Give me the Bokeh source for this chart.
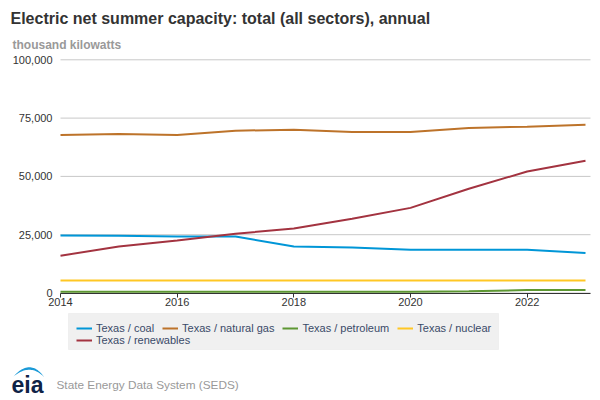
import numpy as np
from bokeh.plotting import figure
from bokeh.models import (Label, Legend, LegendItem, FixedTicker, NumeralTickFormatter,
                          Range1d, PolyAnnotation)
from bokeh.embed import file_html
from bokeh.resources import INLINE

years = [2014, 2015, 2016, 2017, 2018, 2019, 2020, 2021, 2022, 2023]
coal = [24650, 24600, 24200, 24200, 19900, 19500, 18500, 18500, 18500, 17200]
natural_gas = [67800, 68200, 67800, 69600, 70000, 69000, 69000, 70800, 71300, 72100]
petroleum = [500, 500, 500, 500, 500, 500, 500, 700, 1300, 1300]
nuclear = [5400, 5400, 5400, 5400, 5400, 5400, 5400, 5400, 5400, 5400]
renewables = [16000, 19900, 22500, 25400, 27700, 31800, 36500, 44700, 52100, 56700]

series_names = ["Texas / coal", "Texas / natural gas", "Texas / petroleum",
                "Texas / nuclear", "Texas / renewables"]
series_values = [coal, natural_gas, petroleum, nuclear, renewables]
series_colors = ["#0096d7", "#bd732a", "#5d9732", "#ffc724", "#a33340"]

y_ticks = [0, 25000, 50000, 75000, 100000]
x_ticks = [2014, 2016, 2018, 2020, 2022]

title_text = "Electric net summer capacity: total (all sectors), annual"
subtitle_text = "thousand kilowatts"
source_text = "State Energy Data System (SEDS)"

FONT = "Liberation Sans"
W, H = 600, 400
# plot area geometry (pixels within the canvas)
PX_LEFT, PX_RIGHT = 60, 585      # x of first / last year
PY_ZERO, PY_TOP = 292.5, 59.3    # y of 0 and of the top tick (from canvas top)

x_scale = (PX_RIGHT - PX_LEFT) / (years[-1] - years[0])
y_scale = (PY_ZERO - PY_TOP) / (y_ticks[-1] - y_ticks[0])
x0 = years[0] - PX_LEFT / x_scale
x1 = years[-1] + (W - PX_RIGHT) / x_scale
y0 = -(H - PY_ZERO) / y_scale
y1 = PY_ZERO / y_scale
grid_end = years[-1] + 5 / x_scale

p = figure(width=W, height=H, output_backend="svg", toolbar_location=None,
           x_range=Range1d(x0, x1), y_range=Range1d(y0, y1), min_border=0,
           background_fill_color="white", border_fill_color="white")
p.outline_line_color = None
p.grid.grid_line_color = None

# horizontal grid lines at the y ticks
p.segment(x0=[years[0]] * len(y_ticks), y0=y_ticks, x1=[grid_end] * len(y_ticks), y1=y_ticks,
          line_color="#c8c8c8", line_width=1)

p.yaxis.fixed_location = years[0]
p.yaxis.bounds = (y_ticks[0], y_ticks[-1])
p.yaxis.ticker = FixedTicker(ticks=y_ticks)
p.yaxis.formatter = NumeralTickFormatter(format="0,0")
p.yaxis.axis_line_color = None
p.yaxis.major_tick_line_color = None
p.yaxis.minor_tick_line_color = None
p.yaxis.major_tick_out = 0
p.yaxis.major_tick_in = 0
p.yaxis.major_label_standoff = 8
p.yaxis.major_label_text_font = FONT
p.yaxis.major_label_text_font_size = "11px"
p.yaxis.major_label_text_color = "#333333"

p.xaxis.fixed_location = 0
p.xaxis.bounds = (years[0], grid_end)
p.xaxis.ticker = FixedTicker(ticks=x_ticks)
p.xaxis.axis_line_color = "#333333"
p.xaxis.axis_line_width = 1
p.xaxis.major_tick_line_color = "#333333"
p.xaxis.major_tick_out = 4
p.xaxis.major_tick_in = 0
p.xaxis.minor_tick_line_color = None
p.xaxis.major_label_standoff = 1
p.xaxis.major_label_text_font = FONT
p.xaxis.major_label_text_font_size = "11px"
p.xaxis.major_label_text_color = "#333333"

renderers = []
for name, vals, col in zip(series_names, series_values, series_colors):
    r = p.line(years, vals, line_color=col, line_width=2)
    renderers.append((name, r))

# legend background box (page pixels: x 68-498, y 313-349)
box_l, box_r, box_t, box_b = 68, 498, 313, 349
p.add_layout(PolyAnnotation(xs=[box_l, box_r, box_r, box_l],
                            ys=[H - box_t, H - box_t, H - box_b, H - box_b],
                            xs_units="screen", ys_units="screen",
                            fill_color="#f0f0f0", fill_alpha=1,
                            line_color="#dddddd", line_width=1))

legend_style = dict(background_fill_alpha=0, border_line_color=None,
                    label_text_font=FONT, label_text_font_size="11px",
                    label_text_line_height=1.0,
                    label_text_color="#3a4a68", glyph_width=16, glyph_height=12,
                    label_height=12, label_standoff=4, spacing=8, padding=0, margin=0,
                    orientation="horizontal")
items = [LegendItem(label=n, renderers=[r]) for n, r in renderers]
legend_row1 = Legend(items=items[:4], location=(76, H - 333.5), **legend_style)
legend_row2 = Legend(items=items[4:], location=(76, H - 346), **legend_style)
p.add_layout(legend_row1, "center")
p.add_layout(legend_row2, "center")

p.add_layout(Label(x=10, y=H - 18, x_units="screen", y_units="screen", text=title_text,
                   text_font=FONT, text_font_size="16px", text_font_style="bold",
                   text_color="#333333", text_baseline="middle"))
p.add_layout(Label(x=12, y=H - 44, x_units="screen", y_units="screen", text=subtitle_text,
                   text_font=FONT, text_font_size="12px", text_font_style="bold",
                   text_color="#999999", text_baseline="middle"))
p.add_layout(Label(x=11, y=H - 384, x_units="screen", y_units="screen", text="eia",
                   text_font=FONT, text_font_size="23px", text_font_style="bold",
                   text_color="#0f2347", text_baseline="middle"))
p.add_layout(Label(x=56, y=H - 384, x_units="screen", y_units="screen", text=source_text,
                   text_font=FONT, text_font_size="11.8px",
                   text_color="#999999", text_baseline="middle"))

# logo swoosh (decorative shape), given in canvas pixels
t = np.linspace(0, 1, 30)


def bez(a, b, c):
    return (((1 - t) ** 2)[:, None] * np.array(a) + (2 * (1 - t) * t)[:, None] * np.array(b)
            + (t ** 2)[:, None] * np.array(c))


outer = bez((13, 376), (30, 357), (44, 377))
inner = bez((13, 376), (30, 362), (44, 377))[::-1]
pts = np.vstack([outer, inner])
p.add_layout(PolyAnnotation(xs=list(pts[:, 0]), ys=list(H - pts[:, 1]),
                            xs_units="screen", ys_units="screen",
                            fill_color="#1b9ad7", fill_alpha=1, line_color=None))

open("out.html", "w").write(file_html(p, INLINE))
